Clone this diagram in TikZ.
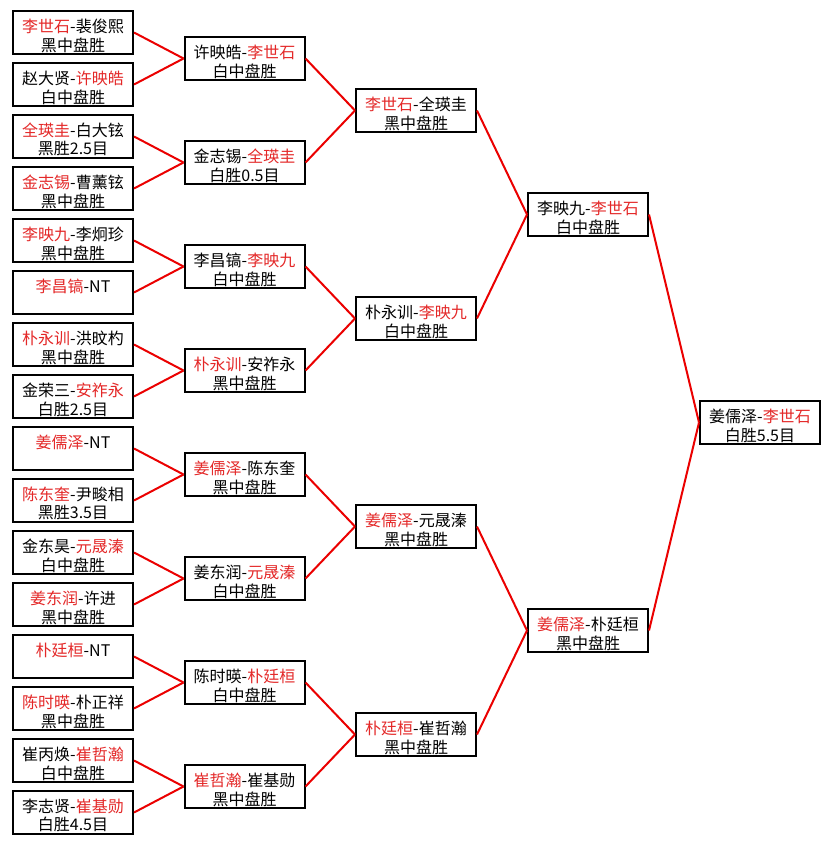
\documentclass[tikz,border=0pt]{standalone}
\usepackage{fontspec}
\setmainfont{Noto Sans CJK SC}
\definecolor{wred}{RGB}{228,40,40}
\definecolor{lred}{RGB}{235,0,0}
\newcommand\R[1]{\textcolor{wred}{#1}}
\newcommand\G[2]{\raisebox{0pt}[\height][\dimexpr\depth-7.5pt\relax]{\begin{tabular}{@{}c@{}}#1\\#2\end{tabular}}}
\tikzset{
  game/.style={draw=black, line width=1.5pt, fill=white, minimum width=90pt,
    minimum height=32.5pt, inner sep=0pt, align=center,
    font=\fontsize{12pt}{13.5pt}\selectfont},
  link/.style={draw=lred, line width=1.5pt}
}
\begin{document}
\begin{tikzpicture}[x=0.75pt,y=-0.75pt]
\fill[white] (0,0) rectangle (832,845);
\useasboundingbox (0,0) rectangle (832,845);
% column 1
\node[game] (a0) at (73,32.5) {\G{\R{李世石}-裴俊熙}{黑中盘胜}};
\node[game] (a1) at (73,84.5) {\G{赵大贤-\R{许映皓}}{白中盘胜}};
\node[game] (a2) at (73,136.5) {\G{\R{全瑛圭}-白大铉}{黑胜2.5目}};
\node[game] (a3) at (73,188.5) {\G{\R{金志锡}-曹薰铉}{黑中盘胜}};
\node[game] (a4) at (73,240.5) {\G{\R{李映九}-李炯珍}{黑中盘胜}};
\node[game] (a5) at (73,292.5) {\G{\R{李昌镐}-NT}{\mbox{}}};
\node[game] (a6) at (73,344.5) {\G{\R{朴永训}-洪旼杓}{黑中盘胜}};
\node[game] (a7) at (73,396.5) {\G{金荣三-\R{安祚永}}{白胜2.5目}};
\node[game] (a8) at (73,448.5) {\G{\R{姜儒泽}-NT}{\mbox{}}};
\node[game] (a9) at (73,500.5) {\G{\R{陈东奎}-尹畯相}{黑胜3.5目}};
\node[game] (a10) at (73,552.5) {\G{金东昊-\R{元晟溱}}{白中盘胜}};
\node[game] (a11) at (73,604.5) {\G{\R{姜东润}-许进}{黑中盘胜}};
\node[game] (a12) at (73,656.5) {\G{\R{朴廷桓}-NT}{\mbox{}}};
\node[game] (a13) at (73,708.5) {\G{\R{陈时暎}-朴正祥}{黑中盘胜}};
\node[game] (a14) at (73,760.5) {\G{崔丙焕-\R{崔哲瀚}}{白中盘胜}};
\node[game] (a15) at (73,812.5) {\G{李志贤-\R{崔基勋}}{白胜4.5目}};
% column 2
\node[game] (b0) at (244.5,58.5) {\G{许映皓-\R{李世石}}{白中盘胜}};
\node[game] (b1) at (244.5,162.5) {\G{金志锡-\R{全瑛圭}}{白胜0.5目}};
\node[game] (b2) at (244.5,266.5) {\G{李昌镐-\R{李映九}}{白中盘胜}};
\node[game] (b3) at (244.5,370.5) {\G{\R{朴永训}-安祚永}{黑中盘胜}};
\node[game] (b4) at (244.5,474.5) {\G{\R{姜儒泽}-陈东奎}{黑中盘胜}};
\node[game] (b5) at (244.5,578.5) {\G{姜东润-\R{元晟溱}}{白中盘胜}};
\node[game] (b6) at (244.5,682.5) {\G{陈时暎-\R{朴廷桓}}{白中盘胜}};
\node[game] (b7) at (244.5,786.5) {\G{\R{崔哲瀚}-崔基勋}{黑中盘胜}};
% column 3
\node[game] (c0) at (416,110.5) {\G{\R{李世石}-全瑛圭}{黑中盘胜}};
\node[game] (c1) at (416,318.5) {\G{朴永训-\R{李映九}}{白中盘胜}};
\node[game] (c2) at (416,526.5) {\G{\R{姜儒泽}-元晟溱}{黑中盘胜}};
\node[game] (c3) at (416,734.5) {\G{\R{朴廷桓}-崔哲瀚}{黑中盘胜}};
% column 4
\node[game] (d0) at (588,214.5) {\G{李映九-\R{李世石}}{白中盘胜}};
\node[game] (d1) at (588,630.5) {\G{\R{姜儒泽}-朴廷桓}{黑中盘胜}};
% final
\node[game] (e0) at (760,422.5) {\G{姜儒泽-\R{李世石}}{白胜5.5目}};
% connectors
\foreach \i/\j in {0/0,1/0,2/1,3/1,4/2,5/2,6/3,7/3,8/4,9/4,10/5,11/5,12/6,13/6,14/7,15/7}
  \draw[link] (a\i.east) -- (b\j.west);
\foreach \i/\j in {0/0,1/0,2/1,3/1,4/2,5/2,6/3,7/3}
  \draw[link] (b\i.east) -- (c\j.west);
\foreach \i/\j in {0/0,1/0,2/1,3/1}
  \draw[link] (c\i.east) -- (d\j.west);
\foreach \i in {0,1}
  \draw[link] (d\i.east) -- (e0.west);
\end{tikzpicture}
\end{document}
